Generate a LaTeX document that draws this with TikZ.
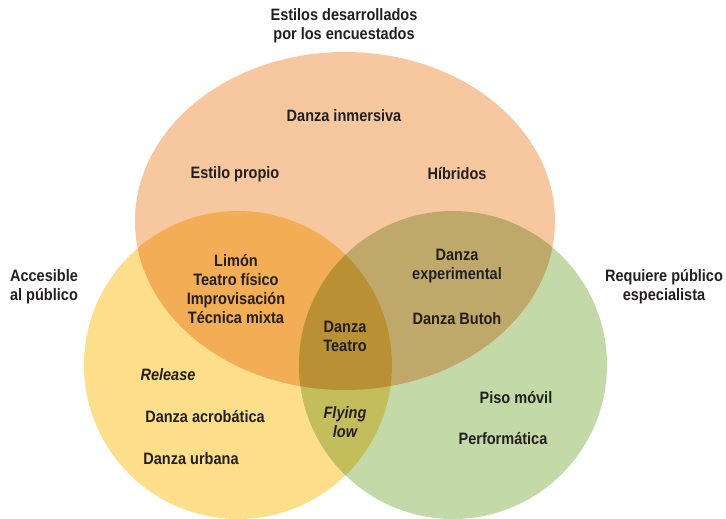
\documentclass[tikz,border=0pt]{standalone}
\usepackage{fontspec}
\setmainfont{Liberation Sans}[FakeStretch=0.88]
\definecolor{cO}{RGB}{247,199,160}
\definecolor{cY}{RGB}{253,222,138}
\definecolor{cG}{RGB}{196,217,168}
\definecolor{cOY}{RGB}{243,173,84}
\definecolor{cOG}{RGB}{190,169,106}
\definecolor{cYG}{RGB}{195,189,92}
\definecolor{cOYG}{RGB}{186,144,52}
\definecolor{txt}{RGB}{35,31,32}
\begin{document}
\begin{tikzpicture}[x=1pt,y=-1pt,
  lbl/.style={font=\fontsize{16.5}{19}\selectfont\bfseries, text=txt, align=center, inner sep=0pt},
  ilbl/.style={lbl, font=\fontsize{16.5}{19}\selectfont\bfseries\itshape}]
\useasboundingbox (0,0) rectangle (726,519);
\def\Opath{(345,221) ellipse [x radius=210pt, y radius=169pt]}
\def\Ypath{(238,365) circle [radius=154pt]}
\def\Gpath{(453,365) circle [radius=154pt]}
\fill[cY] \Ypath;
\fill[cG] \Gpath;
\fill[cO] \Opath;
\begin{scope}
  \clip \Opath;
  \fill[cOY] \Ypath;
  \fill[cOG] \Gpath;
\end{scope}
\begin{scope}
  \clip \Ypath;
  \fill[cYG] \Gpath;
\end{scope}
\begin{scope}
  \clip \Opath;
  \clip \Ypath;
  \fill[cOYG] \Gpath;
\end{scope}
\node[lbl] (t1) at (344,26) {Estilos desarrollados\\por los encuestados};
\node[lbl] (t2) at (44,287) {Accesible\\al público};
\node[lbl] (t3) at (664,287) {Requiere público\\especialista};
\node[lbl] (a1) at (344,116) {Danza inmersiva};
\node[lbl] (a2) at (235,174) {Estilo propio};
\node[lbl] (a3) at (457,174) {Híbridos};
\node[lbl] (b1) at (236,289) {Limón\\Teatro físico\\Improvisación\\Técnica mixta};
\node[lbl] (c1) at (457,266) {Danza\\experimental};
\node[lbl] (c2) at (457,319) {Danza Butoh};
\node[lbl] (d1) at (345,336) {Danza\\Teatro};
\node[ilbl] (e1) at (168,375) {Release};
\node[lbl] (e2) at (205,417) {Danza acrobática};
\node[lbl] (e3) at (191,459) {Danza urbana};
\node[ilbl] (f1) at (345,422) {Flying\\low};
\node[lbl] (g1) at (516,398) {Piso móvil};
\node[lbl] (g2) at (503,439) {Performática};
\end{tikzpicture}
\end{document}
